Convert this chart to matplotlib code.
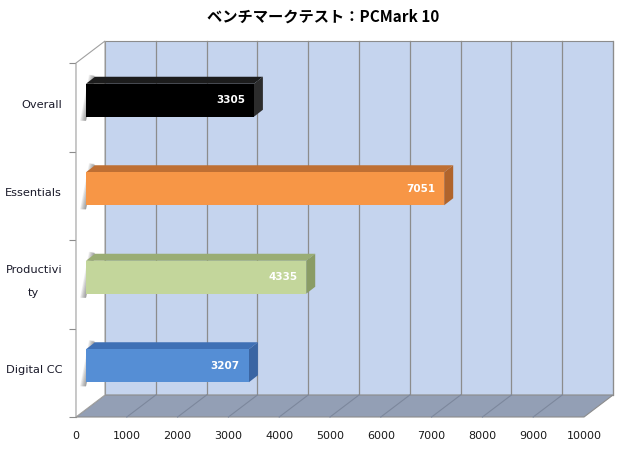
import numpy as np
import matplotlib.pyplot as plt
from matplotlib.patches import Polygon

plt.rcParams['font.family'] = ['DejaVu Sans']

categories = ['Digital CC', 'Productivi\nty', 'Essentials', 'Overall']
scores = [3207, 4335, 7051, 3305]
front_colors = ['#558ed5', '#c3d69b', '#f79646', '#000000']
top_colors = ['#3f70b5', '#9aad74', '#bf6f33', '#1c1c1c']
side_colors = ['#3a65a3', '#8a9c66', '#b0642c', '#2c2c2c']
xticks = np.arange(0, 10001, 1000)
title = 'ベンチマークテスト：PCMark 10'

fig = plt.figure(figsize=(6.2, 4.5), dpi=100)
ax = fig.add_axes([76/620, 33/450, 508/620, 354/450])
ax.set_xlim(0, 10000)
ax.set_ylim(-0.5, 3.5)

px = 10000/508   # data units per pixel
py = 4/354
dx, dy = 29*px, 22*py
y0, y1 = -0.5, 3.5
xmax = xticks[-1]

def poly(pts, fc, ec='none', lw=0.8, z=1, alpha=1):
    ax.add_patch(Polygon(pts, closed=True, facecolor=fc, edgecolor=ec,
                         linewidth=lw, zorder=z, clip_on=False, alpha=alpha))

# back wall
poly([(dx, y0+dy), (xmax+dx, y0+dy), (xmax+dx, y1+dy), (dx, y1+dy)],
     '#c5d4ee', '#8c8c8c', z=1)
for t in xticks[1:]:
    ax.plot([t+dx, t+dx], [y0+dy, y1+dy], color='#8c8c8c', lw=0.9,
            zorder=2, clip_on=False)

# floor
poly([(0, y0), (xmax, y0), (xmax+dx, y0+dy), (dx, y0+dy)],
     '#939fb5', '#8c8c8c', z=3)
for t in xticks[1:-1]:
    ax.plot([t, t+dx], [y0, y0+dy], color='#7c879c', lw=0.8,
            zorder=4, clip_on=False)

# left wall
poly([(0, y0), (dx, y0+dy), (dx, y1+dy), (0, y1)], 'white', '#a0a0a0', z=3)

# bars
bx, cy, h = 10*px, 7*py, 16.5*py
ddx, ddy = 9*px, 7*py
for i, v in enumerate(scores):
    bot = i + cy - h
    top = i + cy + h
    # soft shadow on the left wall
    for k in range(10):
        w = (k+1)*0.6*px
        poly([(bx - w, bot - 4*py), (bx, bot - 4*py),
              (bx + ddx, top + ddy), (bx + ddx - w, top + ddy + 2*py)],
             '#505050', z=4, alpha=0.07)
    poly([(bx, bot), (v+bx, bot), (v+bx, top), (bx, top)], front_colors[i], z=6)
    poly([(bx, top), (v+bx, top), (v+bx+ddx, top+ddy), (bx+ddx, top+ddy)],
         top_colors[i], z=5)
    poly([(v+bx, bot), (v+bx+ddx, bot+ddy), (v+bx+ddx, top+ddy), (v+bx, top)],
         side_colors[i], z=5)
    ax.text(v+bx-9*px, i+cy, str(v), ha='right', va='center', color='white',
            fontsize=7.5, fontweight='bold', zorder=7)

# axes styling
for s in ['top', 'right', 'bottom']:
    ax.spines[s].set_visible(False)
ax.spines['left'].set_color('#8c8c8c')
ax.set_yticks([-0.5, 0.5, 1.5, 2.5, 3.5])
ax.set_yticklabels([])
ax.tick_params(axis='y', which='major', length=5, color='#8c8c8c', direction='out')
ax.set_yticks(np.arange(len(categories)) + 2.5*py, minor=True)
ax.set_yticklabels(categories, minor=True, fontsize=8.2, color='#1a1a2a',
                   linespacing=2.6, multialignment='center')
for lab in ax.get_yticklabels(minor=True):
    lab.set_verticalalignment('center')
ax.tick_params(axis='y', which='minor', length=0, pad=10)
ax.set_xticks(xticks)
ax.set_xticklabels([str(t) for t in xticks], fontsize=8, color='#1a1a1a')
ax.tick_params(axis='x', length=0, pad=10)
ax.patch.set_visible(False)

fig.text(323/620, 1-17/450, title, ha='center', va='center', fontsize=11,
         fontweight='bold', family=['Noto Sans CJK JP', 'DejaVu Sans'])

fig.savefig('out.png', dpi=100)
